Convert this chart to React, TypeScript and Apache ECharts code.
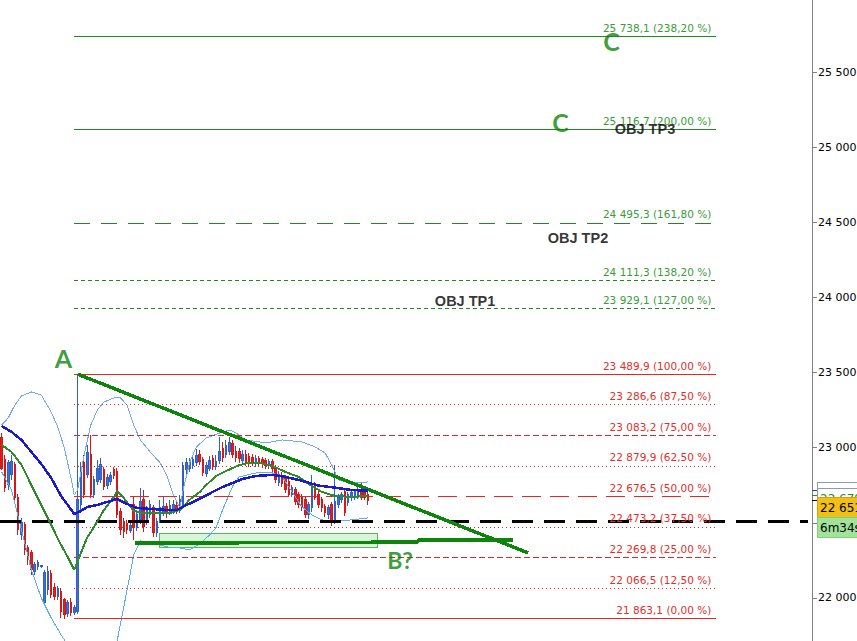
import React, { useEffect, useRef } from 'react';
import * as echarts from 'echarts';

// ---------- DATA ----------
const SLOT_COUNT = 246; // time slots on the x axis (candles + empty future)
const categories = Array.from({ length: SLOT_COUNT }, (_, i) => `${i}`);

// [open, close, low, high]
const candles: number[][] = [
  [23065, 22865, 22852, 23098], [22919, 22732, 22706, 22952], [22752, 22899, 22719, 22919], [22819, 22905, 22786, 22952],
  [22885, 22672, 22653, 22905], [22672, 22453, 22420, 22692], [22420, 22500, 22387, 22533], [22486, 22320, 22287, 22506],
  [22334, 22254, 22220, 22354], [22300, 22187, 22154, 22320], [22174, 22220, 22154, 22240], [22207, 22234, 22187, 22254],
  [22207, 22214, 22200, 22220], [21968, 22167, 21954, 22187], [22054, 22174, 22021, 22214], [22160, 22021, 22001, 22187],
  [22067, 22007, 21988, 22101], [22007, 22061, 21988, 22081], [22041, 21908, 21868, 22067], [21988, 21888, 21863.1, 22001],
  [21894, 21968, 21874, 21988], [21968, 21901, 21881, 22001], [21901, 21934, 21888, 21954], [21908, 22653, 21894, 23489.9],
  [22619, 22852, 22586, 22905], [22899, 22686, 22666, 22952], [22819, 22965, 22799, 23018], [22952, 22686, 22666, 23085],
  [22686, 22786, 22666, 22812], [22772, 22865, 22752, 22919], [22786, 22885, 22766, 22932], [22852, 22739, 22719, 22872],
  [22746, 22799, 22726, 22826], [22772, 22812, 22752, 22839], [22852, 22812, 22792, 22872], [22839, 22553, 22533, 22865],
  [22573, 22453, 22420, 22599], [22506, 22440, 22400, 22533], [22493, 22453, 22427, 22520], [22447, 22480, 22433, 22506],
  [22619, 22467, 22387, 22672], [22467, 22553, 22447, 22586], [22520, 22639, 22493, 22732], [22653, 22473, 22440, 22719],
  [22513, 22586, 22486, 22613], [22553, 22619, 22533, 22653], [22599, 22433, 22407, 22619], [22433, 22506, 22407, 22533],
  [22520, 22599, 22500, 22653], [22573, 22606, 22546, 22672], [22606, 22573, 22533, 22633], [22573, 22613, 22553, 22653],
  [22586, 22619, 22559, 22653], [22613, 22579, 22559, 22653], [22579, 22653, 22566, 22686], [22619, 22879, 22599, 22905],
  [22852, 22899, 22826, 22932], [22865, 22899, 22839, 22932], [22879, 22919, 22859, 22952], [22899, 22945, 22879, 22992],
  [22952, 22905, 22885, 22985], [22919, 22832, 22812, 22939], [22826, 22879, 22806, 22905], [22865, 22912, 22845, 22945],
  [22925, 22872, 22852, 22952], [22872, 22905, 22852, 22952], [22912, 22978, 22892, 23072], [22992, 22932, 22905, 23038],
  [22952, 23012, 22932, 23052], [22978, 23032, 22952, 23072], [23025, 22958, 22932, 23052], [22978, 22932, 22905, 23012],
  [22972, 22925, 22899, 22998], [22912, 22952, 22885, 22985], [22958, 22905, 22879, 22985], [22939, 22899, 22872, 22965],
  [22932, 22899, 22879, 22958], [22892, 22925, 22872, 22952], [22925, 22892, 22872, 22945], [22919, 22892, 22865, 22939],
  [22912, 22879, 22859, 22932], [22879, 22905, 22859, 22925], [22905, 22859, 22839, 22925], [22865, 22786, 22766, 22885],
  [22766, 22819, 22746, 22845], [22812, 22759, 22739, 22839], [22799, 22719, 22699, 22819], [22772, 22692, 22672, 22792],
  [22692, 22732, 22672, 22752], [22719, 22639, 22619, 22739], [22686, 22619, 22599, 22706], [22672, 22606, 22579, 22692],
  [22653, 22553, 22533, 22672], [22553, 22619, 22526, 22639], [22599, 22752, 22573, 22819], [22752, 22672, 22653, 22772],
  [22692, 22619, 22599, 22712], [22653, 22599, 22573, 22672], [22606, 22566, 22539, 22626], [22553, 22599, 22526, 22619],
  [22619, 22500, 22480, 22639], [22520, 22639, 22493, 22885], [22619, 22672, 22599, 22692], [22653, 22686, 22633, 22706],
  [22706, 22566, 22546, 22726], [22633, 22686, 22613, 22706], [22666, 22699, 22646, 22719], [22672, 22706, 22653, 22726],
  [22672, 22719, 22659, 22766], [22719, 22672, 22653, 22766], [22699, 22672, 22653, 22719], [22686, 22651, 22619, 22706],
];

// [slot, price]
const maBlue = [
  [0, 23145], [3, 23105], [6, 23052], [9, 22972], [12, 22892], [15, 22799], [18, 22679], [20, 22619], [22, 22559],
  [24, 22579], [26, 22606], [29, 22619], [32, 22639], [35, 22659], [38, 22626], [41, 22599], [45, 22593], [50, 22586],
  [53, 22586], [56, 22619], [58, 22639], [61, 22672], [64, 22706], [67, 22739], [70, 22766], [73, 22792], [77, 22812],
  [82, 22819], [86, 22806], [91, 22780], [96, 22748], [101, 22734], [106, 22719], [111, 22714],
];
const maGreen = [
  [0, 23018], [3, 22972], [6, 22885], [9, 22752], [12, 22619], [15, 22486], [18, 22353], [20, 22273], [22, 22187],
  [24, 22300], [26, 22406], [28, 22473], [31, 22586], [34, 22672], [35, 22712], [37, 22666], [40, 22579], [43, 22566],
  [47, 22566], [51, 22566], [54, 22586], [57, 22655], [60, 22705], [62, 22752], [65, 22812], [68, 22845], [72, 22885],
  [75, 22899], [78, 22899], [82, 22879], [86, 22839], [90, 22805], [93, 22759], [97, 22706], [101, 22679], [106, 22672],
  [111, 22679],
];
const bbUpper = [
  [0, 23151], [2, 23198], [4, 23284], [6, 23344], [9, 23371], [12, 23351], [15, 23238], [17, 23138], [19, 22998],
  [21, 22799], [22, 22686], [23, 22719], [25, 22952], [27, 23151], [29, 23251], [31, 23304], [34, 23331], [36, 23331],
  [38, 23284], [40, 23151], [42, 23052], [45, 22972], [48, 22899], [50, 22819], [52, 22686], [54, 22599], [55, 22719],
  [57, 22905], [59, 23005], [62, 23065], [66, 23098], [69, 23118], [71, 23098], [74, 23052], [80, 23032], [85, 23052],
  [91, 23038], [95, 23005], [98, 22965], [100, 22885], [102, 22786], [106, 22766], [111, 22772],
];
const bbLower = [
  [0, 22839], [3, 22719], [6, 22453], [9, 22187], [12, 22001], [15, 21868], [18, 21755], [20, 21688], [23, 21560],
  [26, 21480], [33, 21480], [35, 21715], [37, 21941], [39, 22167], [40, 22287], [42, 22380], [46, 22367], [50, 22340],
  [54, 22333], [57, 22320], [60, 22360], [63, 22420], [65, 22470], [67, 22590], [70, 22745], [72, 22806], [77, 22832],
  [82, 22832], [85, 22806], [88, 22706], [91, 22606], [94, 22553], [97, 22520], [100, 22506], [106, 22520], [111, 22533],
];

// Fibonacci levels
const fibPrices = [25738.1, 25116.7, 24495.3, 24111.3, 23929.1, 23489.9, 23286.6, 23083.2, 22879.9, 22676.5, 22473.2, 22269.8, 22066.5, 21863.1];
const fibPercents = [238.2, 200, 161.8, 138.2, 127, 100, 87.5, 75, 62.5, 50, 37.5, 25, 12.5, 0];
const fibSpan = [22, 216.5]; // slots

const blackLevel = 22513;
const blackSpan = [-0.5, 244.3];
const trendLine = [[23, 23489.9], [159.5, 22300]];
const supportLine = [[40.4, 22365], [126, 22372], [126.2, 22386], [155, 22386]];
const zoneBox = [[47.7, 22426], [114, 22333]];

const annotationTexts = ['A', 'C', 'C', 'OBJ TP3', 'OBJ TP2', 'OBJ TP1', 'B?'];
const annotationPos = [[18.7, 23600], [184.75, 25705], [169.3, 25167], [194.9, 25123], [174.6, 24395], [140.4, 23976], [120.7, 22254]];

const tagTexts = ['22 714', '22 679', '22 651', '6m34s'];
const tagPrices = [22714, 22679, 22651, 22651];

// ---------- STYLES ----------
const RED = '#dc2a24';
const RED_TEXT = '#e0302a';
const GREEN_LINE = '#1f8a1f';
const GREEN_TEXT = '#3b9b3b';
const WAVE_GREEN = '#0c850c';
const fibLineTypes: any[] = ['solid', 'solid', [16, 11], [4, 3], [4, 3], 'solid', [1, 3], [6, 3], [1, 3], [19, 9], [1, 3], [6, 3], [1, 3], 'solid'];
const WAVE_FONT = '"Liberation Sans Narrow", "Lato", sans-serif';
const annotationStyles = [
  { color: WAVE_GREEN, size: 25, family: WAVE_FONT },
  { color: WAVE_GREEN, size: 25, family: WAVE_FONT },
  { color: WAVE_GREEN, size: 25, family: WAVE_FONT },
  { color: '#000', size: 14.5, family: 'Liberation Sans' },
  { color: '#000', size: 14.5, family: 'Liberation Sans' },
  { color: '#000', size: 14.5, family: 'Liberation Sans' },
  { color: WAVE_GREEN, size: 23, family: WAVE_FONT },
];
const tagStyles = [
  { dy: -8, fill: '#ffffff', stroke: '#8c9bb0', color: '#1c3fd0' },
  { dy: -7, fill: '#ffffff', stroke: '#8c9bb0', color: '#2a8a2a' },
  { dy: -3, fill: '#f2bf16', stroke: '#d8a200', color: '#000000' },
  { dy: 17, fill: '#9fe49a', stroke: '#7fcf7f', color: '#000000' },
];

const groupThousands = (s: string) => s.replace(/\B(?=(\d{3})+(?!\d))/g, ' ');
const fmtAxis = (v: number) => groupThousands(String(Math.round(v)));
const fmtFib = (p: number, pct: number) => {
  const [ip, dp] = p.toFixed(1).split('.');
  return `${groupThousands(ip)},${dp} (${pct.toFixed(2).replace('.', ',')} %)`;
};

export default function App() {
  const ref = useRef<HTMLDivElement>(null);

  useEffect(() => {
    const chart = echarts.init(ref.current!, null, { renderer: 'svg' });

    const fibMarks = fibPrices.map((p, i) => {
      const isExt = fibPercents[i] > 100;
      return [
        {
          coord: [fibSpan[0], p],
          lineStyle: { color: isExt ? GREEN_LINE : RED, width: 1, type: fibLineTypes[i], opacity: 1 },
          label: {
            show: true,
            position: 'insideEndTop',
            formatter: fmtFib(p, fibPercents[i]),
            color: isExt ? GREEN_TEXT : RED_TEXT,
            fontSize: 10.5,
            fontFamily: 'DejaVu Sans',
            distance: [5, 3],
          },
        },
        { coord: [fibSpan[1], p] },
      ];
    });

    const overlayMarks = [
      [
        { coord: [blackSpan[0], blackLevel], lineStyle: { color: '#000', width: 3, type: [21, 11] } },
        { coord: [blackSpan[1], blackLevel] },
      ],
      [
        { coord: trendLine[0], lineStyle: { color: WAVE_GREEN, width: 3.5, type: 'solid' } },
        { coord: trendLine[1] },
      ],
    ];

    const lineSeries = (data: number[][], color: string, width: number, z: number) => ({
      type: 'line',
      xAxisIndex: 1,
      yAxisIndex: 0,
      data,
      symbol: 'none',
      silent: true,
      z,
      color,
      lineStyle: { color, width },
    });

    const option: any = {
      animation: false,
      backgroundColor: '#ffffff',
      grid: { left: 0, right: 45, top: -3.14, bottom: -32.14, containLabel: false, outerBoundsMode: 'none' },
      xAxis: [
        { type: 'category', data: categories, show: false, boundaryGap: true },
        { type: 'value', min: -0.5, max: SLOT_COUNT - 0.5, show: false },
      ],
      yAxis: {
        type: 'value',
        position: 'right',
        min: 21500,
        max: 26000,
        interval: 500,
        axisLine: { show: true, onZero: false, lineStyle: { color: '#808080', width: 1 } },
        axisTick: { show: true, length: 5, lineStyle: { color: '#808080' } },
        splitLine: { show: false },
        axisLabel: { color: '#000', fontSize: 11, fontFamily: 'DejaVu Sans', margin: 6, formatter: fmtAxis },
      },
      series: [
        {
          type: 'line',
          xAxisIndex: 1,
          yAxisIndex: 0,
          data: [],
          symbol: 'none',
          silent: true,
          z: 1,
          markLine: { silent: true, symbol: ['none', 'none'], animation: false, data: fibMarks },
        },
        {
          type: 'candlestick',
          xAxisIndex: 0,
          yAxisIndex: 0,
          data: candles,
          barWidth: 2,
          z: 3,
          itemStyle: {
            color: '#3f70d8',
            color0: '#e02020',
            borderColor: '#2f5fc8',
            borderColor0: '#d41818',
            borderWidth: 1,
          },
        },
        lineSeries(bbUpper, '#74ace6', 1, 4),
        lineSeries(bbLower, '#5ab0e6', 1, 4),
        lineSeries(maGreen, '#2d8a2d', 2, 5),
        lineSeries(maBlue, '#1a1acc', 2.5, 6),
        lineSeries(supportLine, WAVE_GREEN, 3.5, 9),
        {
          type: 'line',
          xAxisIndex: 1,
          yAxisIndex: 0,
          data: [],
          symbol: 'none',
          silent: true,
          z: 8,
          markArea: {
            silent: true,
            itemStyle: { color: 'rgba(150, 228, 150, 0.35)', borderColor: '#55b855', borderWidth: 1 },
            data: [[{ coord: zoneBox[0] }, { coord: zoneBox[1] }]],
          },
          markLine: { silent: true, symbol: ['none', 'none'], animation: false, label: { show: false }, data: overlayMarks },
        },
        {
          type: 'scatter',
          xAxisIndex: 1,
          yAxisIndex: 0,
          symbolSize: 1,
          silent: true,
          z: 10,
          itemStyle: { color: 'rgba(0,0,0,0)' },
          data: annotationPos.map((pos, i) => ({
            value: pos,
            label: {
              show: true,
              position: 'inside',
              formatter: annotationTexts[i],
              color: annotationStyles[i].color,
              fontSize: annotationStyles[i].size,
              fontWeight: 'bold',
              fontFamily: annotationStyles[i].family,
            },
          })),
        },
      ],
    };

    chart.setOption(option);

    const axisX = chart.getWidth() - 45;
    const graphics: any[] = [];
    tagPrices.forEach((p, i) => {
      const py = chart.convertToPixel({ yAxisIndex: 0 }, p) as number;
      const st = tagStyles[i];
      const top = py + st.dy;
      if (i < 3) {
        graphics.push({
          type: 'line',
          shape: { x1: axisX, y1: py, x2: axisX + 5, y2: py },
          style: { stroke: i === 0 ? '#1c3fd0' : i === 1 ? '#2a8a2a' : '#000', lineWidth: 1 },
          z: 100,
        });
      }
      graphics.push({
        type: 'rect',
        shape: { x: axisX + 5.5, y: top, width: 60, height: 20 },
        style: { fill: st.fill, stroke: st.stroke, lineWidth: 1 },
        z: 100 + i,
      });
      graphics.push({
        type: 'text',
        x: axisX + 8,
        y: top + 10.5,
        style: {
          text: tagTexts[i],
          fill: st.color,
          font: '12px "DejaVu Sans"',
          verticalAlign: 'middle',
          align: 'left',
        },
        z: 100 + i,
      });
    });
    chart.setOption({ graphic: graphics });

    return () => chart.dispose();
  }, []);

  return (
    <>
      <style>{'.fib-chart svg path { shape-rendering: crispEdges; }'}</style>
      <div
        ref={ref}
        className="fib-chart"
        style={{ position: 'absolute', left: 0, top: 0, width: 857, height: 641, background: '#fff' }}
      />
    </>
  );
}
